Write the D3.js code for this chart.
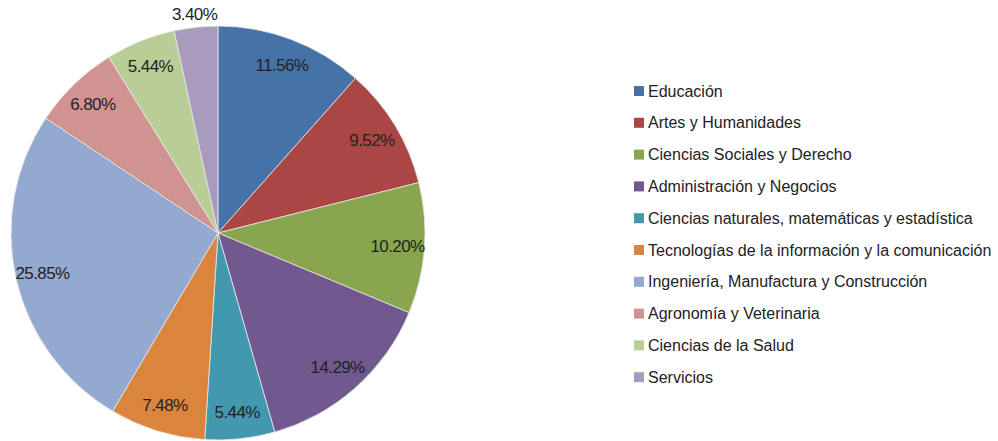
<!DOCTYPE html>
<html>
<head>
<meta charset="utf-8">
<script src="https://cdn.jsdelivr.net/npm/d3@7"></script>
<style>
  body { margin: 0; background: #fff; }
  svg { display: block; font-family: "Liberation Sans", Arial, sans-serif; }
</style>
</head>
<body>
<svg width="998" height="441"></svg>
<script>
// data
let categories = [
  "Educación",
  "Artes y Humanidades",
  "Ciencias Sociales y Derecho",
  "Administración y Negocios",
  "Ciencias naturales, matemáticas y estadística",
  "Tecnologías de la información y la comunicación",
  "Ingeniería, Manufactura y Construcción",
  "Agronomía y Veterinaria",
  "Ciencias de la Salud",
  "Servicios"
];
let shares = [11.56, 9.52, 10.20, 14.29, 5.44, 7.48, 25.85, 6.80, 5.44, 3.40];
let colors = ["#4572a7", "#aa4643", "#89a54e", "#71588f", "#4198af",
              "#db843d", "#93a9cf", "#d19392", "#b9cd96", "#a99bbd"];

let svg = d3.select("svg");
let cx = 218, cy = 233, radius = 207;

let data = categories.map((c, i) => ({ name: c, value: shares[i], color: colors[i] }));

let pie = d3.pie()
  .sort(null)
  .value(d => d.value);
let arcs = pie(data);

let arc = d3.arc().innerRadius(0).outerRadius(radius);
let labelArc = d3.arc().innerRadius(180).outerRadius(180);
let outerLabelArc = d3.arc().innerRadius(220).outerRadius(220);

let g = svg.append("g")
  .attr("transform", `translate(${cx},${cy})`);

g.selectAll("path")
  .data(arcs)
  .enter().append("path")
    .attr("d", arc)
    .attr("fill", d => d.data.color)
    .attr("stroke", "#e8e8e8")
    .attr("stroke-width", 0.8);

g.selectAll("text")
  .data(arcs)
  .enter().append("text")
    .attr("transform", d => {
      // the thinnest slice gets its label outside the pie
      let a = d.data.value < 4 ? outerLabelArc : labelArc;
      return `translate(${a.centroid(d)})`;
    })
    .attr("text-anchor", "middle")
    .attr("dy", "0.35em")
    .attr("font-size", 17)
    .attr("letter-spacing", -0.6)
    .attr("fill", "#222")
    .text(d => d.data.value.toFixed(2) + "%");

// legend
let legend = svg.append("g")
  .attr("transform", "translate(634,91)");

let row = legend.selectAll("g")
  .data(data)
  .enter().append("g")
    .attr("transform", (d, i) => `translate(0,${i * 31.8})`);

row.append("rect")
  .attr("x", 0)
  .attr("y", -5)
  .attr("width", 10)
  .attr("height", 10)
  .attr("fill", d => d.color);

row.append("text")
  .attr("x", 14)
  .attr("dy", "0.35em")
  .attr("font-size", 16)
  .attr("fill", "#222")
  .text(d => d.name);
</script>
</body>
</html>
